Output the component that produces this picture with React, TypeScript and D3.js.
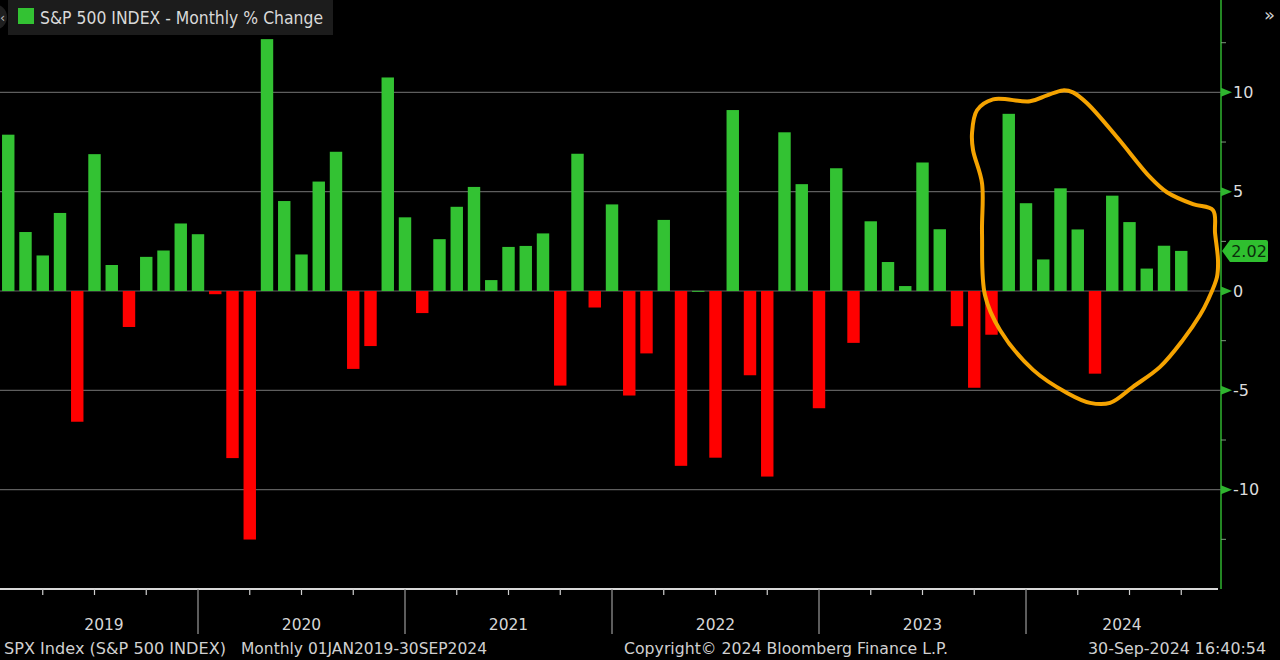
import React from 'react';
import * as d3 from 'd3';

// ---- data (monthly % change of the S&P 500) ----
const years = ['2019', '2020', '2021', '2022', '2023', '2024'];
const chg2019 = [7.87, 2.97, 1.79, 3.93, -6.58, 6.89, 1.31, -1.81, 1.72, 2.04, 3.4, 2.86];
const chg2020 = [-0.16, -8.41, -12.51, 12.68, 4.53, 1.84, 5.51, 7.01, -3.92, -2.77, 10.75, 3.71];
const chg2021 = [-1.11, 2.61, 4.24, 5.24, 0.55, 2.22, 2.27, 2.9, -4.76, 6.91, -0.83, 4.36];
const chg2022 = [-5.26, -3.14, 3.58, -8.8, 0.01, -8.39, 9.11, -4.24, -9.34, 7.99, 5.38, -5.9];
const chg2023 = [6.18, -2.61, 3.51, 1.46, 0.25, 6.47, 3.11, -1.77, -4.87, -2.2, 8.92, 4.42];
const chg2024 = [1.59, 5.17, 3.1, -4.16, 4.8, 3.47, 1.13, 2.28, 2.02];
const monthlyChange = [...chg2019, ...chg2020, ...chg2021, ...chg2022, ...chg2023, ...chg2024];

const yMajorTicks = [-10, -5, 0, 5, 10];
const yMinorTicks = [-12.5, -7.5, -2.5, 2.5, 7.5, 12.5];
const lastValueLabel = '2.02';

const legendLabel = 'S&P 500 INDEX - Monthly % Change';
const footerTicker = 'SPX Index (S&P 500 INDEX)';
const footerRange = 'Monthly 01JAN2019-30SEP2024';
const footerCopyright = 'Copyright\u00A9 2024 Bloomberg Finance L.P.';
const footerStamp = '30-Sep-2024 16:40:54';

// hand-drawn highlight, in (month index, % change) coordinates
const highlightLoop: [number, number][] = [
  [57.16, 9.1], [58.09, 9.65], [60.23, 9.55], [61.22, 9.85], [62.14, 10.1], [62.72, 10.0],
  [63.54, 9.45], [65.28, 7.74], [67.19, 5.73], [68.17, 4.97], [69.68, 4.37], [70.84, 4.07],
  [70.96, 2.91], [71.13, 1.56], [71.07, 0.7], [70.55, -0.45], [70.09, -1.21], [69.1, -2.46],
  [67.77, -3.82], [66.2, -4.82], [64.87, -5.63], [63.71, -5.63], [62.38, -5.13], [60.41, -3.97],
  [58.49, -1.96], [57.62, -0.2], [57.45, 2.91], [57.45, 5.43], [56.93, 7.09], [56.87, 7.94],
];

const W = 1280;
const H = 660;
const FONT = 'DejaVu Sans, Verdana, sans-serif';

export default function App() {
  const plotLeft = 0;
  const axisX = 1221;
  const x = d3.scaleLinear().domain([0, 71.13]).range([-9, 1218]);
  const y = d3.scaleLinear().domain([-15, 14.65]).range([589, 0]);
  const bw = (x(1) - x(0)) * 0.72;
  const zeroY = y(0);

  const quarterTicks = d3.range(3, 72, 3).filter((m) => m % 12 !== 0);
  const yearStarts = d3.range(12, 72, 12);

  const loopPath = d3
    .line<[number, number]>()
    .x((d) => x(d[0]))
    .y((d) => y(d[1]))
    .curve(d3.curveCatmullRomClosed.alpha(0.5))(highlightLoop) as string;

  const lastV = monthlyChange[monthlyChange.length - 1];
  const tagY = y(lastV);

  return (
    <svg
      width={W}
      height={H}
      style={{ position: 'absolute', left: 0, top: 0, display: 'block', background: '#000' }}
      fontFamily={FONT}
    >
      <rect x={0} y={0} width={W} height={H} fill="#000" />

      {/* grid lines */}
      {yMajorTicks.map((t) => (
        <line key={'g' + t} x1={plotLeft} x2={axisX} y1={y(t)} y2={y(t)} stroke="#5e5e5e" strokeWidth={1.2} />
      ))}

      {/* bars */}
      {monthlyChange.map((v, i) => {
        const cx = x(i + 1);
        const y0 = Math.min(y(v), zeroY);
        const h = Math.max(Math.abs(y(v) - zeroY), 1);
        return (
          <rect
            key={'b' + i}
            x={cx - bw / 2}
            y={y0}
            width={bw}
            height={h}
            fill={v >= 0 ? '#33c233' : '#ff0000'}
          />
        );
      })}

      {/* x axis */}
      <line x1={plotLeft} x2={1218} y1={589} y2={589} stroke="#d8d8d8" strokeWidth={2} />
      {quarterTicks.map((m) => (
        <line key={'q' + m} x1={x(m)} x2={x(m)} y1={589} y2={595} stroke="#cfcfcf" strokeWidth={1.2} />
      ))}
      {yearStarts.map((m) => (
        <line key={'ys' + m} x1={x(m)} x2={x(m)} y1={589} y2={634} stroke="#9a9a9a" strokeWidth={1.2} />
      ))}
      {years.map((yr, k) => {
        const a = Math.max(x(k * 12), plotLeft + 10);
        const b = Math.min(x(k * 12 + 12), 1218);
        return (
          <text key={yr} x={(a + b) / 2} y={630} textAnchor="middle" fontSize={15.5} fill="#d6d6d6">
            {yr}
          </text>
        );
      })}

      {/* y axis (right) */}
      <line x1={axisX} x2={axisX} y1={0} y2={589} stroke="#2fb52f" strokeWidth={1.5} />
      {yMinorTicks.map((t) => (
        <line key={'mt' + t} x1={axisX} x2={axisX + 5} y1={y(t)} y2={y(t)} stroke="#7a9a7a" strokeWidth={1} />
      ))}
      {yMajorTicks.map((t) => (
        <g key={'yt' + t}>
          <path
            d={`M${axisX},${y(t) - 4.5}L${axisX + 11},${y(t)}L${axisX},${y(t) + 4.5}Z`}
            fill="#2fb52f"
          />
          <text x={axisX + 12} y={y(t)} dy="0.36em" fontSize={16} fill="#dcdcdc">
            {t}
          </text>
        </g>
      ))}

      {/* last value tag */}
      <path
        d={`M${axisX + 1},${tagY}L${axisX + 9},${tagY - 11}L${1266},${tagY - 11}Q1268,${tagY - 11} 1268,${tagY - 9}L1268,${tagY + 9}Q1268,${tagY + 11} 1266,${tagY + 11}L${axisX + 9},${tagY + 11}Z`}
        fill="#2fbf2f"
      />
      <text x={1249} y={tagY} dy="0.36em" textAnchor="middle" fontSize={16} fill="#0b2e0b">
        {lastValueLabel}
      </text>

      {/* hand-drawn highlight */}
      <path d={loopPath} fill="none" stroke="#f5a300" strokeWidth={4} strokeLinejoin="round" />

      {/* legend */}
      <circle cx={-6} cy={17} r={13} fill="#1f1f1f" />
      <text x={0} y={22} fontSize={13} fill="#bbb">‹</text>
      <rect x={8} y={0} width={325} height={35} fill="#1c1c1c" />
      <rect x={18} y={8} width={16} height={16} fill="#33c233" />
      <text x={40} y={24} fontSize={17} fill="#d9d9d9" textLength={283} lengthAdjust="spacingAndGlyphs">
        {legendLabel}
      </text>

      {/* top-right chevron */}
      <text x={1264} y={21} fontSize={18} fill="#d0d0d0">»</text>

      {/* footer */}
      <text x={4} y={654} fontSize={15} fill="#d0d0d0" textLength={222} lengthAdjust="spacingAndGlyphs">
        {footerTicker}
      </text>
      <text x={241} y={654} fontSize={15} fill="#d0d0d0" textLength={246} lengthAdjust="spacingAndGlyphs">
        {footerRange}
      </text>
      <text x={624} y={654} fontSize={15} fill="#d0d0d0" textLength={324} lengthAdjust="spacingAndGlyphs">
        {footerCopyright}
      </text>
      <text x={1088} y={654} fontSize={15} fill="#d0d0d0" textLength={178} lengthAdjust="spacingAndGlyphs">
        {footerStamp}
      </text>
    </svg>
  );
}
